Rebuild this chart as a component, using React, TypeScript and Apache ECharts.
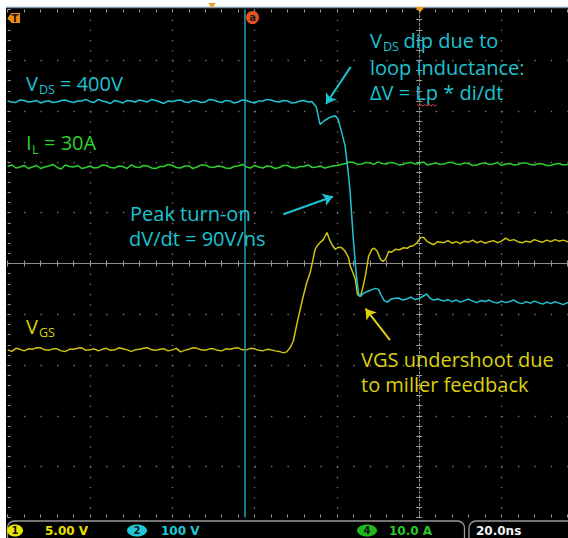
import { useEffect, useRef } from 'react';
import * as echarts from 'echarts';

// Time axis in ns (20 ns/div), vertical values in screen divisions.
const vdsTrace: [number, number][] = [
  [-100, 3.20], [-99, 3.18], [-98, 3.17], [-97, 3.22], [-96, 3.21], [-95, 3.18], [-94, 3.19], [-93, 3.21],
  [-92, 3.16], [-91, 3.19], [-90, 3.20], [-89, 3.17], [-88, 3.18], [-87, 3.21], [-86, 3.22], [-85, 3.19],
  [-84, 3.17], [-83, 3.20], [-82, 3.20], [-81, 3.23], [-80, 3.19], [-79, 3.17], [-78, 3.23], [-77, 3.20],
  [-76, 3.18], [-75, 3.15], [-74, 3.21], [-73, 3.19], [-72, 3.16], [-71, 3.21], [-70, 3.20], [-69, 3.18],
  [-68, 3.22], [-67, 3.20], [-66, 3.18], [-65, 3.23], [-64, 3.21], [-63, 3.18], [-62, 3.15], [-61, 3.20],
  [-60, 3.19], [-59, 3.21], [-58, 3.22], [-57, 3.18], [-56, 3.17], [-55, 3.21], [-54, 3.20], [-53, 3.17],
  [-52, 3.18], [-51, 3.23], [-50, 3.22], [-49, 3.19], [-48, 3.17], [-47, 3.21], [-46, 3.20], [-45, 3.16],
  [-44, 3.18], [-43, 3.22], [-42, 3.21], [-41, 3.18], [-40, 3.16], [-39, 3.20], [-38, 3.20], [-37, 3.23],
  [-36, 3.22], [-35, 3.19], [-34, 3.18], [-33, 3.21], [-32, 3.20], [-31, 3.16], [-30, 3.17], [-29, 3.20],
  [-28, 3.21], [-27, 3.18], [-26.1, 3.19], [-25, 3.08], [-24.1, 2.74], [-22.9, 2.82], [-21.6, 2.88],
  [-20.4, 2.91], [-19.7, 2.84], [-18.9, 2.60], [-18, 2.31], [-17.2, 1.76], [-16.75, 1.36], [-16, 0.47],
  [-15.3, -0.22], [-14.7, -0.61], [-14.3, -0.65], [-13.6, -0.59], [-12.6, -0.55], [-11.6, -0.52],
  [-10.7, -0.49], [-9.9, -0.51], [-9.2, -0.63], [-8.5, -0.73], [-7.7, -0.76], [-7, -0.71], [-6.3, -0.69],
  [-5, -0.68], [-4, -0.72], [-3, -0.70], [-2, -0.66], [-1, -0.71], [0, -0.69], [1, -0.64], [1.8, -0.60],
  [2.6, -0.68], [3.5, -0.72], [4.5, -0.70], [6, -0.74], [7, -0.71], [8, -0.75], [9, -0.72], [10, -0.76],
  [11, -0.73], [12, -0.70], [13, -0.74], [14, -0.77], [15, -0.73], [16, -0.75], [17, -0.72], [18, -0.76],
  [19, -0.78], [20, -0.74], [21, -0.77], [22, -0.75], [23, -0.72], [24, -0.77], [25, -0.79], [26, -0.75],
  [27, -0.78], [28, -0.74], [29, -0.77], [30, -0.80], [31, -0.76], [32, -0.79], [33, -0.75], [34, -0.78],
  [35, -0.81], [36, -0.77], [37, -0.79], [38, -0.76],
];

const ilTrace: [number, number][] = [
  [-100, 1.91], [-99, 1.94], [-98, 1.88], [-97, 1.90], [-96, 1.93], [-95, 1.87], [-94, 1.90], [-93, 1.93],
  [-92, 1.87], [-91, 1.90], [-90, 1.92], [-89, 1.95], [-88, 1.89], [-87, 1.86], [-86, 1.94], [-85, 1.91],
  [-84, 1.90], [-83, 1.93], [-82, 1.87], [-81, 1.89], [-80, 1.92], [-79, 1.88], [-78, 1.89], [-77, 1.94],
  [-76, 1.93], [-75, 1.89], [-74, 1.88], [-73, 1.92], [-72, 1.91], [-71, 1.87], [-70, 1.94], [-69, 1.90],
  [-68, 1.89], [-67, 1.93], [-66, 1.92], [-65, 1.88], [-64, 1.87], [-63, 1.91], [-62, 1.91], [-61, 1.95],
  [-60, 1.93], [-59, 1.89], [-58, 1.88], [-57, 1.92], [-56, 1.92], [-55, 1.87], [-54, 1.90], [-53, 1.94],
  [-52, 1.94], [-51, 1.90], [-50, 1.89], [-49, 1.92], [-48, 1.91], [-47, 1.88], [-46, 1.87], [-45, 1.91],
  [-44, 1.92], [-43, 1.95], [-42, 1.90], [-41, 1.88], [-40, 1.93], [-39, 1.90], [-38, 1.88], [-37, 1.92],
  [-36, 1.91], [-35, 1.87], [-34, 1.89], [-33, 1.93], [-32, 1.93], [-31, 1.89], [-30, 1.88], [-29, 1.91],
  [-28, 1.91], [-27, 1.94], [-26, 1.89], [-25, 1.90], [-24, 1.92], [-23, 1.88], [-22, 1.90], [-21, 1.92],
  [-20, 1.93], [-19, 1.95], [-18, 1.97], [-17, 2.00], [-16, 1.99], [-15, 1.95], [-14, 1.96], [-13, 1.99],
  [-12, 1.98], [-11, 1.95], [-10, 2.00], [-9, 1.97], [-8, 1.96], [-7, 1.99], [-6, 1.98], [-5, 1.94],
  [-4, 1.95], [-3, 1.98], [-2, 1.99], [-1, 1.96], [0, 1.97], [1, 2.00], [2, 1.94], [3, 1.96], [4, 1.98],
  [5, 1.95], [6, 1.96], [7, 1.99], [8, 1.99], [9, 1.96], [10, 1.95], [11, 1.98], [12, 1.97], [13, 1.93],
  [14, 1.94], [15, 1.97], [16, 1.98], [17, 1.95], [18, 1.96], [19, 1.99], [20, 1.93], [21, 1.96],
  [22, 1.97], [23, 1.94], [24, 1.95], [25, 1.98], [26, 1.98], [27, 1.95], [28, 1.94], [29, 1.97],
  [30, 1.96], [31, 1.93], [32, 1.93], [33, 1.96], [34, 1.97], [35, 1.94], [36, 1.95], [37, 1.98], [38, 1.96],
];

const vgsTrace: [number, number][] = [
  [-100, -1.70], [-99, -1.73], [-98, -1.67], [-97, -1.69], [-96, -1.72], [-95, -1.68], [-94, -1.69],
  [-93, -1.66], [-92, -1.66], [-91, -1.70], [-90, -1.71], [-89, -1.68], [-88, -1.68], [-87, -1.72],
  [-86, -1.73], [-85, -1.69], [-84, -1.69], [-83, -1.67], [-82, -1.66], [-81, -1.71], [-80, -1.70],
  [-79, -1.68], [-78, -1.72], [-77, -1.69], [-76, -1.67], [-75, -1.71], [-74, -1.70], [-73, -1.66],
  [-72, -1.68], [-71, -1.70], [-70, -1.73], [-69, -1.70], [-68, -1.69], [-67, -1.67], [-66, -1.66],
  [-65, -1.70], [-64, -1.71], [-63, -1.69], [-62, -1.68], [-61, -1.72], [-60, -1.70], [-59, -1.67],
  [-58, -1.74], [-57, -1.71], [-56, -1.69], [-55, -1.66], [-54, -1.67], [-53, -1.70], [-52, -1.71],
  [-51, -1.68], [-50, -1.68], [-49, -1.71], [-48, -1.72], [-47, -1.68], [-46, -1.69], [-45, -1.67],
  [-44, -1.66], [-43, -1.70], [-42, -1.70], [-41, -1.67], [-40, -1.68], [-39, -1.71], [-38, -1.72],
  [-37, -1.69], [-36, -1.70], [-35, -1.72], [-34, -1.73], [-33, -1.76], [-32.2, -1.74], [-31.4, -1.66],
  [-30.6, -1.53], [-29.9, -1.26], [-29.4, -1.07], [-28.2, -0.65], [-27.3, -0.37], [-26.5, -0.18],
  [-25.8, 0.08], [-25.3, 0.28], [-24.6, 0.37], [-24.1, 0.41], [-23.3, 0.47], [-22.4, 0.61], [-21.9, 0.49],
  [-21.2, 0.37], [-20.4, 0.28], [-19.7, 0.32], [-18.8, 0.31], [-18, 0.24], [-17.2, 0.12], [-16.75, -0.05],
  [-16, -0.20], [-15.5, -0.32], [-15, -0.61], [-14.3, -0.65], [-13.8, -0.51], [-13.1, -0.25], [-12.3, 0.14],
  [-11.5, 0.28], [-10.9, 0.30], [-10.2, 0.24], [-9.4, 0.08], [-8.8, 0.04], [-8.2, 0.08], [-7.4, 0.24],
  [-6.8, 0.22], [-5.8, 0.28], [-4.8, 0.27], [-3.8, 0.31], [-2.9, 0.30], [-2.1, 0.34], [-1.4, 0.35],
  [-0.5, 0.41], [0.3, 0.51], [1.1, 0.51], [2, 0.43], [3.5, 0.37], [4.5, 0.43], [6, 0.41], [7, 0.45],
  [8, 0.40], [9, 0.43], [10, 0.39], [11, 0.44], [12, 0.42], [13, 0.46], [14, 0.41], [15, 0.44], [16, 0.40],
  [17, 0.43], [18, 0.45], [19, 0.41], [20, 0.44], [21, 0.50], [22, 0.45], [23, 0.47], [24, 0.43],
  [25, 0.41], [26, 0.44], [27, 0.42], [28, 0.47], [29, 0.44], [30, 0.42], [31, 0.46], [32, 0.43],
  [33, 0.47], [34, 0.44], [35, 0.46], [36, 0.43], [37, 0.45], [38, 0.44],
];

const cursorTime = -42.4;

// annotation arrows: [from, to] in (ns, div)
const cyanArrows: [number, number][][] = [
  [[-16.65, 3.87], [-22.65, 3.14]],
  [[-33.0, 0.97], [-20.95, 1.32]],
];
const yellowArrows: [number, number][][] = [
  [[-7.1, -1.51], [-13.05, -0.89]],
];

const channelScales = ['5.00 V', '100 V', '10.0 A'];
const timeScale = '20.0ns';

const CYAN = '#22c4d3';
const CYAN_TXT = '#1fc2d2';
const YELLOW = '#cfc312';
const YELLOW_TXT = '#dcd10c';
const GREEN = '#2ccf2c';
const GREEN_TXT = '#2bd12b';
const TICK = '#9a9a9a';
const FONT = '"Open Sans"';

function txt(x: number, baseline: number, text: string, color: string) {
  return {
    type: 'text',
    x,
    y: baseline - 7.8,
    z: 100,
    style: { text, fill: color, font: `20px ${FONT}`, verticalAlign: 'middle', align: 'left' },
  };
}
function sub(x: number, baseline: number, text: string, color: string, lift = 1.7) {
  return {
    type: 'text',
    x,
    y: baseline - lift,
    z: 100,
    style: { text, fill: color, font: `12.5px ${FONT}`, verticalAlign: 'middle', align: 'left' },
  };
}

const xBase = {
  type: 'value',
  min: -100,
  max: 40,
  interval: 20,
  axisLabel: { show: false },
  splitLine: { show: false },
  axisTick: { show: true, length: 3, lineStyle: { color: TICK, width: 1 } },
  minorTick: { show: true, splitNumber: 5, length: 3, lineStyle: { color: TICK, width: 1 } },
};
const yBase = { ...xBase, min: -5, max: 5, interval: 1 };

export default function App() {
  const ref = useRef<HTMLDivElement>(null);
  useEffect(() => {
    const chart = echarts.init(ref.current!, undefined, { renderer: 'svg' });
    const option: any = {
      animation: false,
      backgroundColor: 'transparent',
      grid: { left: 7.7, right: -15.8, top: 9.5, bottom: 20.5, outerBoundsMode: 'none', containLabel: false },
      xAxis: [
        {
          ...xBase,
          position: 'bottom',
          axisLine: { show: true, onZero: true, onZeroAxisIndex: 0, lineStyle: { color: '#8e8e8e', width: 1 } },
          axisTick: { ...xBase.axisTick, inside: false },
          splitLine: {
            show: true,
            showMinLine: false,
            lineStyle: { color: '#7a7a7a', width: 1.3, type: [1.3, 8.86] },
          },
        },
        {
          ...xBase,
          position: 'top',
          axisLine: { show: false, onZero: true, onZeroAxisIndex: 0 },
          axisTick: { ...xBase.axisTick, inside: false },
        },
        {
          ...xBase,
          position: 'bottom',
          axisLine: { show: false, onZero: false },
          axisTick: { ...xBase.axisTick, inside: true },
        },
        {
          ...xBase,
          position: 'top',
          axisLine: { show: false, onZero: false },
          axisTick: { ...xBase.axisTick, inside: true },
        },
      ],
      yAxis: [
        {
          ...yBase,
          position: 'left',
          axisLine: { show: true, onZero: true, onZeroAxisIndex: 0, lineStyle: { color: '#8e8e8e', width: 1, type: [2, 2] } },
          axisTick: { ...yBase.axisTick, inside: false },
          splitLine: {
            show: true,
            showMinLine: false,
            showMaxLine: false,
            lineStyle: { color: '#7a7a7a', width: 1.3, type: [1.3, 15.16] },
          },
        },
        {
          ...yBase,
          position: 'right',
          axisLine: { show: false, onZero: true, onZeroAxisIndex: 0 },
          axisTick: { ...yBase.axisTick, inside: false },
        },
        {
          ...yBase,
          position: 'left',
          axisLine: { show: false, onZero: false },
          axisTick: { ...yBase.axisTick, inside: true },
        },
      ],
      series: [
        {
          type: 'line',
          name: 'IL',
          data: ilTrace,
          symbol: 'none',
          lineStyle: { color: GREEN, width: 1.5 },
          z: 3,
          markLine: {
            silent: true,
            symbol: ['none', 'none'],
            label: { show: false },
            lineStyle: { color: '#1e98a6', width: 1.6, type: 'solid' },
            data: [{ xAxis: cursorTime }],
          },
        },
        {
          type: 'line',
          name: 'VGS',
          data: vgsTrace,
          symbol: 'none',
          lineStyle: { color: YELLOW, width: 1.5 },
          z: 4,
          markLine: {
            silent: true,
            symbol: ['none', 'arrow'],
            symbolSize: 10,
            label: { show: false },
            lineStyle: { color: YELLOW_TXT, width: 2, type: 'solid' },
            data: yellowArrows.map(([a, b]) => [{ coord: a }, { coord: b }]),
          },
        },
        {
          type: 'line',
          name: 'VDS',
          data: vdsTrace,
          symbol: 'none',
          lineStyle: { color: CYAN, width: 1.5 },
          z: 5,
          markLine: {
            silent: true,
            symbol: ['none', 'arrow'],
            symbolSize: 10,
            label: { show: false },
            lineStyle: { color: CYAN_TXT, width: 2, type: 'solid' },
            data: cyanArrows.map(([a, b]) => [{ coord: a }, { coord: b }]),
          },
        },
      ],
      graphic: [
        { type: 'line', z: 90, shape: { x1: 6, y1: 7.5, x2: 568, y2: 7.5 }, style: { stroke: '#7e95a8', lineWidth: 1.5 } },
        // markers
        { type: 'polygon', z: 95, shape: { points: [[208, 3], [216, 3], [212, 8]] }, style: { fill: '#f0a020' } },
        { type: 'polygon', z: 95, shape: { points: [[415.5, 7], [424.5, 7], [420, 12.5]] }, style: { fill: '#f0a020' } },
        { type: 'polygon', z: 95, shape: { points: [[7.5, 18], [11.5, 13], [20, 13], [20, 23], [11.5, 23]] }, style: { fill: '#f08c10' } },
        { type: 'text', z: 96, x: 15, y: 18.5, style: { text: 'T', fill: '#1a1a1a', font: 'bold 10px "DejaVu Sans"', align: 'center', verticalAlign: 'middle' } },
        { type: 'circle', z: 95, shape: { cx: 252.5, cy: 17.5, r: 6.5 }, style: { fill: '#e8521e' } },
        { type: 'text', z: 96, x: 252.5, y: 17.5, style: { text: 'a', fill: '#1a1a1a', font: 'bold 10px "DejaVu Sans"', align: 'center', verticalAlign: 'middle' } },
        // annotations
        txt(370, 48.5, 'V', CYAN_TXT),
        sub(383, 48.5, 'DS', CYAN_TXT, 2.2),
        txt(403.5, 48.5, 'dip due to', CYAN_TXT),
        txt(370, 75, 'loop inductance:', CYAN_TXT),
        txt(370, 100, 'ΔV = Lp * di/dt', CYAN_TXT),
        {
          type: 'polyline', z: 100,
          shape: { points: [[417, 104.5], [419, 106], [421, 104.5], [423, 106], [425, 104.5], [427, 106], [429, 104.5], [431, 106], [433, 104.5], [435, 106], [437, 104.5]] },
          style: { stroke: '#d23a3a', lineWidth: 1, fill: 'none' },
        },
        txt(130, 221.5, 'Peak turn-on', CYAN_TXT),
        txt(129, 246.7, 'dV/dt = 90V/ns', CYAN_TXT),
        txt(26, 91, 'V', CYAN_TXT),
        sub(39, 91, 'DS', CYAN_TXT),
        txt(60, 91, '= 400V', CYAN_TXT),
        txt(26, 150.7, 'I', GREEN_TXT),
        sub(32, 150.7, 'L', GREEN_TXT),
        txt(44, 150.7, '= 30A', GREEN_TXT),
        txt(26, 334.3, 'V', YELLOW_TXT),
        sub(39, 334.3, 'GS', YELLOW_TXT),
        txt(361, 367.5, 'VGS undershoot due', YELLOW_TXT),
        txt(361, 392.5, 'to miller feedback', YELLOW_TXT),
        // bottom bar
        { type: 'rect', z: 90, shape: { x: 7.5, y: 521, width: 457, height: 30, r: 7 }, style: { fill: 'none', stroke: '#9a9a9a', lineWidth: 1.3 } },
        { type: 'rect', z: 90, shape: { x: 469, y: 521, width: 130, height: 30, r: 7 }, style: { fill: 'none', stroke: '#9a9a9a', lineWidth: 1.3 } },
        { type: 'ellipse', z: 95, shape: { cx: 15, cy: 530.5, rx: 8, ry: 6 }, style: { fill: '#e8e600' } },
        { type: 'text', z: 96, x: 15, y: 530.5, style: { text: '1', fill: '#111', font: 'bold 10px "DejaVu Sans"', align: 'center', verticalAlign: 'middle' } },
        { type: 'text', z: 96, x: 45, y: 530.5, style: { text: channelScales[0], fill: '#e6e000', font: 'bold 12px "DejaVu Sans"', align: 'left', verticalAlign: 'middle' } },
        { type: 'ellipse', z: 95, shape: { cx: 137, cy: 530.5, rx: 10, ry: 6 }, style: { fill: '#1ec8d8' } },
        { type: 'text', z: 96, x: 137, y: 530.5, style: { text: '2', fill: '#111', font: 'bold 10px "DejaVu Sans"', align: 'center', verticalAlign: 'middle' } },
        { type: 'text', z: 96, x: 161, y: 530.5, style: { text: channelScales[1], fill: '#1ec8d8', font: 'bold 12px "DejaVu Sans"', align: 'left', verticalAlign: 'middle' } },
        { type: 'ellipse', z: 95, shape: { cx: 367, cy: 530.5, rx: 10, ry: 6 }, style: { fill: '#1fb81f' } },
        { type: 'text', z: 96, x: 367, y: 530.5, style: { text: '4', fill: '#111', font: 'bold 10px "DejaVu Sans"', align: 'center', verticalAlign: 'middle' } },
        { type: 'text', z: 96, x: 389, y: 530.5, style: { text: channelScales[2], fill: '#2bc42b', font: 'bold 12px "DejaVu Sans"', align: 'left', verticalAlign: 'middle' } },
        { type: 'text', z: 96, x: 476, y: 530.5, style: { text: timeScale, fill: '#f2f2f2', font: 'bold 12px "DejaVu Sans"', align: 'left', verticalAlign: 'middle' } },
      ],
    };
    chart.setOption(option);
    return () => chart.dispose();
  }, []);
  return (
    <div style={{ position: 'fixed', left: 0, top: 0, width: 568, height: 538, background: '#ffffff', overflow: 'hidden' }}>
      <div style={{ position: 'absolute', left: 6, top: 7, right: 0, bottom: 0, background: '#000000' }} />
      <div ref={ref} style={{ position: 'absolute', left: 0, top: 0, width: 568, height: 538 }} />
    </div>
  );
}
